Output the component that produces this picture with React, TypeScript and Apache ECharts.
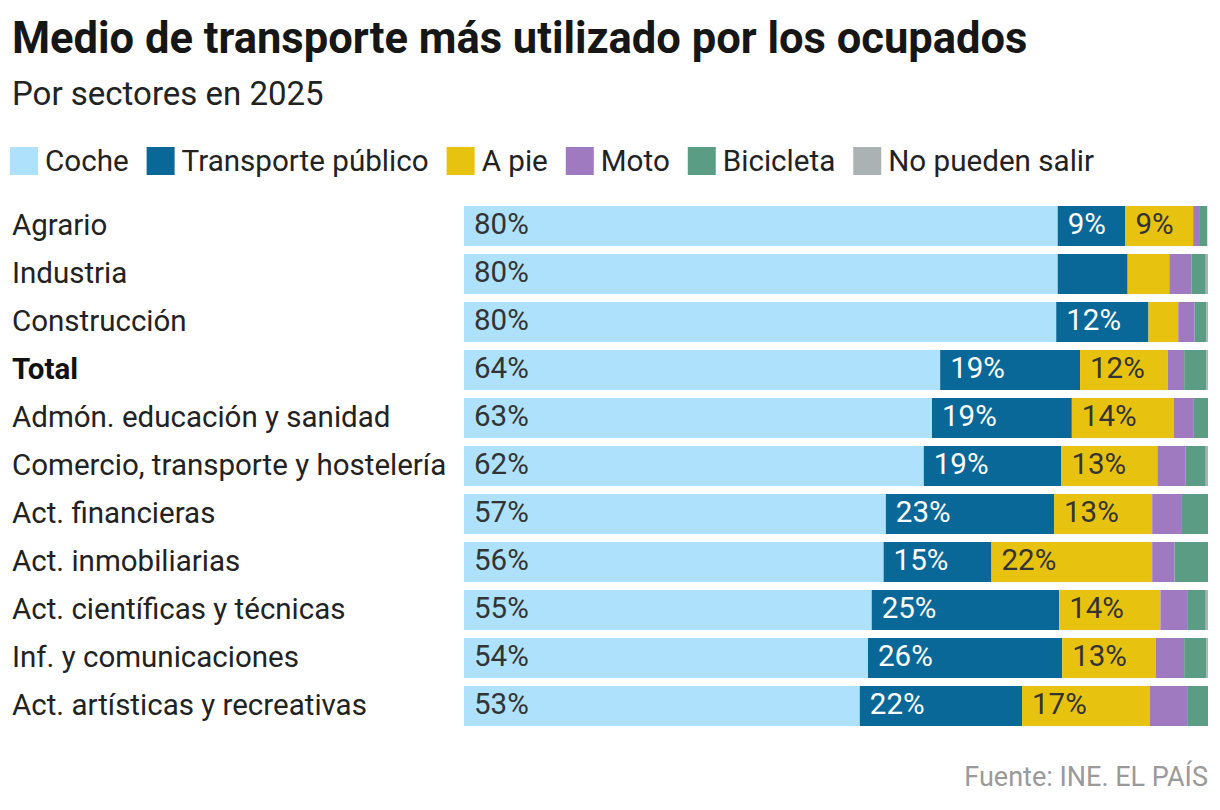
import React, { useEffect, useRef } from "react";
import * as echarts from "echarts";

const categories = [
  "Agrario",
  "Industria",
  "Construcción",
  "Total",
  "Admón. educación y sanidad",
  "Comercio, transporte y hostelería",
  "Act. financieras",
  "Act. inmobiliarias",
  "Act. científicas y técnicas",
  "Inf. y comunicaciones",
  "Act. artísticas y recreativas",
];

const seriesNames = ["Coche", "Transporte público", "A pie", "Moto", "Bicicleta", "No pueden salir"];

const coche = [79.8, 79.8, 79.6, 64.0, 62.9, 61.8, 56.7, 56.4, 54.8, 54.3, 53.2];
const transportePublico = [9.1, 9.4, 12.4, 18.8, 18.8, 18.5, 22.6, 14.5, 25.2, 26.1, 21.8];
const aPie = [9.1, 5.6, 4.0, 11.8, 13.7, 12.9, 13.2, 21.6, 13.6, 12.6, 17.2];
const moto = [0.8, 3.0, 2.2, 2.2, 2.7, 3.8, 4.0, 3.0, 3.7, 3.8, 5.1];
const bicicleta = [1.1, 1.9, 1.6, 3.0, 1.9, 2.7, 3.5, 4.6, 2.4, 3.0, 2.7];
const noPuedenSalir = [0, 0.3, 0.3, 0.3, 0.3, 0.3, 0, 0, 0.3, 0.3, 0];

const seriesValues = [coche, transportePublico, aPie, moto, bicicleta, noPuedenSalir];
const colors = ["#aee1fb", "#0a6899", "#e7c310", "#a07ac1", "#5b9d84", "#aab2b3"];
const labelColors = ["#333333", "#ffffff", "#333333", "#333333", "#333333", "#333333"];
// which series get value labels, and exceptions with no label
const labelledSeries = ["Coche", "Transporte público", "A pie"];
const hiddenLabels: [string, string][] = [["Transporte público", "Industria"]];

const FONT = "Roboto";

export default function App() {
  const ref = useRef<HTMLDivElement>(null);

  useEffect(() => {
    document.body.style.margin = "0";
    if (!ref.current) return;
    const chart = echarts.init(ref.current, undefined, { renderer: "svg" });

    const series = seriesNames.map((name, si) => ({
      name,
      type: "bar",
      stack: "total",
      barWidth: 40,
      itemStyle: { color: colors[si] },
      label: {
        show: labelledSeries.includes(name),
        position: "insideLeft",
        distance: 10,
        offset: [0, -2],
        color: labelColors[si],
        fontSize: 29.5,
        fontFamily: FONT,
        formatter: (p: any) => {
          if (si > 0 && p.value < 9) return "";
          return Math.round(p.value) + "%";
        },
      },
      data: seriesValues[si].map((v, ci) => {
        const hidden = hiddenLabels.some(([s, c]) => s === name && c === categories[ci]);
        return hidden ? { value: v, label: { show: false } } : v;
      }),
    }));

    chart.setOption({
      animation: false,
      textStyle: { fontFamily: FONT },
      legend: {
        left: 5,
        top: 141,
        itemWidth: 28,
        itemHeight: 28,
        itemGap: 18,
        icon: "rect",
        data: seriesNames,
        textStyle: { fontSize: 29.6, color: "#222", fontFamily: FONT, lineHeight: 28, padding: [0, 0, 0, 2] },
        selectedMode: false,
      },
      grid: { left: 464, right: 12, top: 202, height: 528, containLabel: false },
      xAxis: {
        type: "value",
        min: 0,
        max: 100,
        show: false,
      },
      yAxis: {
        type: "category",
        inverse: true,
        data: categories,
        axisLine: { show: false },
        axisTick: { show: false },
        axisLabel: {
          margin: 452,
          align: "left",
          fontSize: 29.5,
          color: "#222",
          fontFamily: FONT,
          padding: [0, 0, 3, 0],
          formatter: (v: string) => (v === "Total" ? "{b|" + v + "}" : v),
          rich: {
            b: { fontWeight: "bold", fontSize: 29.5, color: "#111", fontFamily: FONT },
          },
        },
      },
      graphic: [
        {
          type: "text",
          x: 12,
          y: 38,
          style: {
            text: "Medio de transporte más utilizado por los ocupados",
            font: "bold 43.5px Roboto",
            fill: "#161616",
            verticalAlign: "middle",
          },
        },
        {
          type: "text",
          x: 12,
          y: 93,
          style: {
            text: "Por sectores en 2025",
            font: "33px Roboto",
            fill: "#222",
            verticalAlign: "middle",
          },
        },
        {
          type: "text",
          x: 1208,
          y: 777,
          style: {
            text: "Fuente: INE. EL PAÍS",
            font: "27px Roboto",
            fill: "#9a9a9a",
            align: "right",
            verticalAlign: "middle",
          },
        },
      ],
      series,
    });

    return () => chart.dispose();
  }, []);

  return <div ref={ref} style={{ width: 1220, height: 810 }} />;
}
